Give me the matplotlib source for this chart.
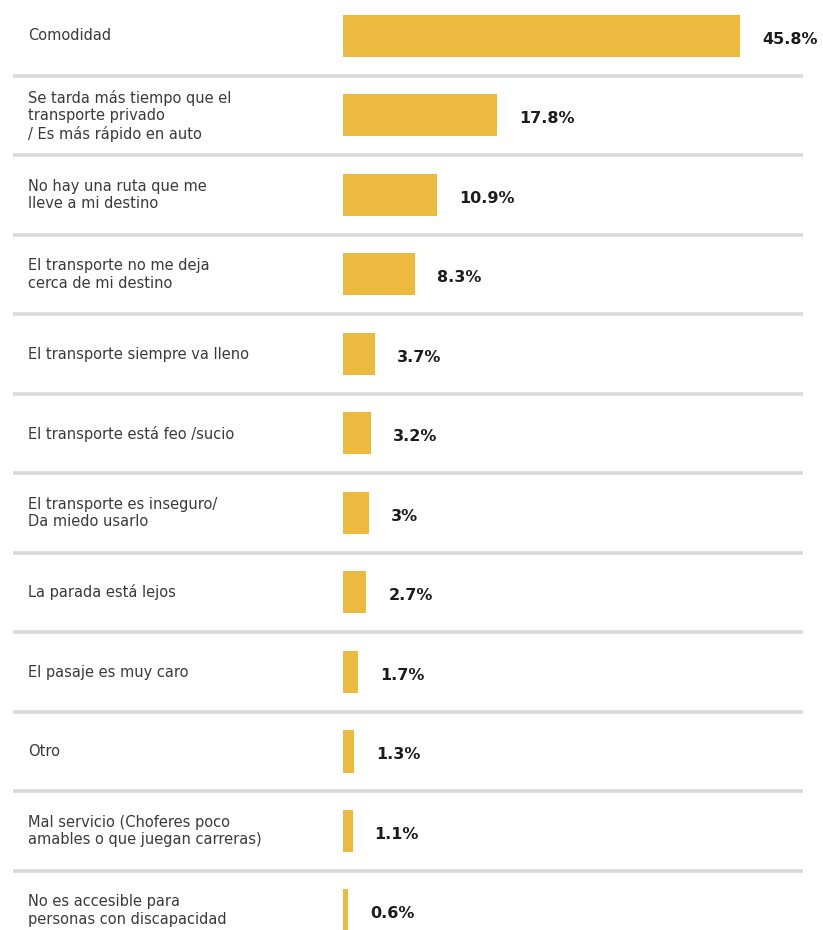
import matplotlib
matplotlib.use("Agg")
import matplotlib.pyplot as plt
import matplotlib.transforms as mtransforms

# Reasons for not using public transport (% of respondents)
categories = [
    "Comodidad",
    "Se tarda más tiempo que el\ntransporte privado\n/ Es más rápido en auto",
    "No hay una ruta que me\nlleve a mi destino",
    "El transporte no me deja\ncerca de mi destino",
    "El transporte siempre va lleno",
    "El transporte está feo /sucio",
    "El transporte es inseguro/\nDa miedo usarlo",
    "La parada está lejos",
    "El pasaje es muy caro",
    "Otro",
    "Mal servicio (Choferes poco\namables o que juegan carreras)",
    "No es accesible para\npersonas con discapacidad",
]
values = [45.8, 17.8, 10.9, 8.3, 3.7, 3.2, 3, 2.7, 1.7, 1.3, 1.1, 0.6]

BAR_COLOR = "#ECBA3E"
SEP_COLOR = "#d9d9d9"
LABEL_COLOR = "#3a3a3a"
VALUE_COLOR = "#1c1c1c"

W, H, DPI = 823, 930, 100
fig = plt.figure(figsize=(W / DPI, H / DPI), dpi=DPI)
fig.patch.set_facecolor("white")
ax = fig.add_axes([0, 0, 1, 1])
ax.set_axis_off()

# pixel layout of the panel
bar_left_px, bar_max_px = 343, 740
row0_px, row_step_px, bar_h_px = 36, 79.5, 42

px_per_unit = (bar_max_px - bar_left_px) / max(values)
ax.set_xlim(-bar_left_px / px_per_unit, (W - bar_left_px) / px_per_unit)
ax.set_ylim((H - row0_px) / row_step_px, -row0_px / row_step_px)

ypos = list(range(len(categories)))
ax.barh(ypos, values, height=bar_h_px / row_step_px, color=BAR_COLOR,
        edgecolor="none", zorder=2)

# row separators
for i in range(len(categories) - 1):
    ax.axhline(i + 0.5, xmin=13 / W, xmax=803 / W, color=SEP_COLOR,
               linewidth=2.6, zorder=1, solid_capstyle="butt")

# category labels on the left
trans = mtransforms.blended_transform_factory(ax.transAxes, ax.transData)
for y, label in zip(ypos, categories):
    ax.text(28 / W, y, label, transform=trans, ha="left", va="center",
            fontsize=10.5, color=LABEL_COLOR, linespacing=1.2,
            family="DejaVu Sans")

# value labels
offset = 22 / px_per_unit
for y, v in zip(ypos, values):
    ax.text(v + offset, y + 0.04, f"{v:g}%", ha="left", va="center",
            fontsize=11.5, fontweight="bold", color=VALUE_COLOR,
            family="DejaVu Sans")

fig.savefig("out.png", dpi=DPI, facecolor="white")
